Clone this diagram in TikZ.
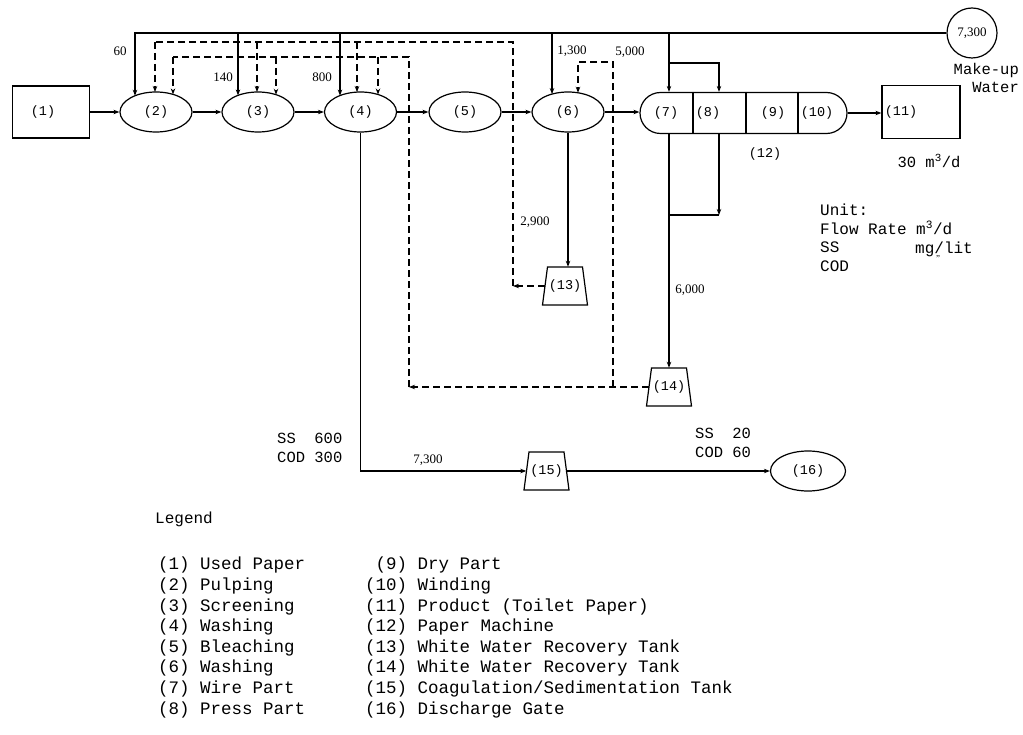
\documentclass[tikz,border=0pt]{standalone}
\usepackage{fontspec}
\setmainfont{Liberation Serif}
\setmonofont{Liberation Mono}
\usetikzlibrary{shapes.geometric,shapes.misc,arrows.meta,calc}
\newcommand\tankat[4]{%
  \node[tanklbl] (#1) at (#2,#3) {#4};
  \draw[line] ($(#1.center)+(-17.5,-19)$) -- ($(#1.center)+(17.5,-19)$) -- ($(#1.center)+(22.5,19)$) -- ($(#1.center)+(-22.5,19)$) -- cycle;}
\begin{document}
\begin{tikzpicture}[x=1pt,y=-1pt,
  line/.style={line width=1.2pt},
  dline/.style={line width=1.2pt, dash pattern=on 7pt off 4pt},
  arr/.style={-{Stealth[length=6pt,width=4.5pt]}},
  lbl/.style={font=\ttfamily\fontsize{13.5}{16}\selectfont, inner sep=0pt},
  oval/.style={draw, line width=1.2pt, ellipse, minimum width=72pt, minimum height=40pt, inner sep=0pt, lbl},
  box/.style={draw, line width=1.2pt, rectangle, inner sep=0pt},
  num/.style={font=\fontsize{13}{15}\selectfont, inner sep=0pt},
  mono/.style={font=\ttfamily\fontsize{15.5}{18.5}\selectfont, inner sep=0pt},
  leg/.style={font=\ttfamily\fontsize{17.5}{20.6}\selectfont, inner sep=0pt, align=left, anchor=north west},
  tanklbl/.style={inner sep=0pt, minimum width=40pt, minimum height=38pt, lbl}
]
\useasboundingbox (0,0) rectangle (1023,735);

% main process nodes
\node[box, minimum width=77pt, minimum height=52pt] (n1) at (51,112) {};
\node[lbl] (n1t) at (43,112) {(1)};
\node[oval] (n2) at (156,112) {(2)};
\node[oval] (n3) at (258,112) {(3)};
\node[oval] (n4) at (360.5,112) {(4)};
\node[oval] (n5) at (465,112) {(5)};
\node[oval] (n6) at (568,112) {(6)};
\node[draw, line width=1.2pt, rounded rectangle, minimum width=207pt, minimum height=41pt, inner sep=0pt] (pm) at (743.5,113) {};
\draw[line] (pm.north -| 693,0) -- (pm.south -| 693,0);
\draw[line] (pm.north -| 746,0) -- (pm.south -| 746,0);
\draw[line] (pm.north -| 798,0) -- (pm.south -| 798,0);
\node[lbl] (n7) at (666,113) {(7)};
\node[lbl] (n8) at (708,113) {(8)};
\node[lbl] (n9) at (773,113) {(9)};
\node[lbl] (n10) at (817,113) {(10)};
\node[lbl] (n12) at (765,154) {(12)};
\node[box, minimum width=78pt, minimum height=53pt] (n11) at (921,112) {};
\node[lbl] (n11t) at (901,112) {(11)};
\node[mono] (n11q) at (929,161) {30 m\textsuperscript{3}/d};
\node[draw, line width=1.2pt, circle, minimum size=50pt, inner sep=0pt, num] (mw) at (972,33) {7,300};
\node[mono, align=right, anchor=north east] (mwt) at (1019,63) {Make-up\\Water};

\tankat{t13}{565}{286}{(13)}
\tankat{t14}{669}{387}{(14)}
\tankat{t15}{546.5}{471}{(15)}
\node[draw, line width=1.2pt, ellipse, minimum width=75pt, minimum height=40pt, inner sep=0pt, lbl] (n16) at (808,471) {(16)};

% main flow
\draw[line,arr] (n1.east) -- (n2.west);
\draw[line,arr] (n2.east) -- (n3.west);
\draw[line,arr] (n3.east) -- (n4.west);
\draw[line,arr] (n4.east) -- (n5.west);
\draw[line,arr] (n5.east) -- (n6.west);
\draw[line,arr] (n6.east) -- (n6.east -| pm.west);
\draw[line,arr] (pm.east) -- (pm.east -| n11.west);

% make-up water line
\coordinate (top2) at (135,33);
\coordinate (top3) at (238,33);
\coordinate (top4) at (340,33);
\coordinate (top6) at (552,33);
\coordinate (top7) at (669,33);
\coordinate (br8) at (669,63);
\coordinate (br8r) at (719,63);
\draw[line,arr] (mw.west) -- (top2) -- ($(n2.center)+(-21,-16.2)$);
\draw[line,arr] (top3) -- ($(n3.center)+(-20,-16.6)$);
\draw[line,arr] (top4) -- ($(n4.center)+(-20.5,-16.4)$);
\draw[line,arr] (top6) -- ($(n6.center)+(-16,-17.9)$);
\draw[line,arr] (top7) -- (pm.north -| top7);
\draw[line,arr] (br8) -- (br8r) -- (pm.north -| br8r);

% outer dashed return from (13)
\coordinate (ob) at (513,286);
\coordinate (ot) at (513,42);
\coordinate (ol) at (155,42);
\coordinate (o3) at (257,42);
\coordinate (o4) at (357,42);
\draw[dline,arr] (t13.west) -- (ob);
\draw[dline] (ob) -- (ot) -- (ol);
\draw[dline,arr] (ol) -- ($(n2.center)+(-1,-20)$);
\draw[dline,arr] (o3) -- ($(n3.center)+(-1,-20)$);
\draw[dline,arr] (o4) -- ($(n4.center)+(-3.5,-19.9)$);

% inner dashed return from (14)
\coordinate (ib) at (409,387);
\coordinate (it) at (409,57);
\coordinate (il) at (173,57);
\coordinate (i3) at (276,57);
\coordinate (i4) at (378,57);
\coordinate (j14) at (613,387);
\coordinate (j14t) at (613,62);
\coordinate (j14l) at (578,62);
\draw[dline,arr] (t14.west) -- (ib);
\draw[dline] (ib) -- (it) -- (il);
\draw[dline,arr] (il) -- ($(n2.center)+(17,-17.6)$);
\draw[dline,arr] (i3) -- ($(n3.center)+(18,-17.3)$);
\draw[dline,arr] (i4) -- ($(n4.center)+(17.5,-17.5)$);
\draw[dline,arr] (j14) -- (j14t) -- (j14l) -- ($(n6.center)+(10,-19.2)$);

% downward flows
\draw[line,arr] (n6.south) -- (n6.south |- t13.north);
\draw[line,arr] (pm.south -| top7) -- (t14.north);
\coordinate (c8) at (719,215);
\draw[line,arr] (pm.south -| br8r) -- (c8);
\draw[line] (c8) -- (c8 -| top7);
\draw[line,arr] (n4.south) -- (n4.south |- t15.west) -- (t15.west);
\draw[line,arr] (t15.east) -- (n16.west);

% flow numbers
\node[num] (q60) at (120,51) {60};
\node[num] (q140) at (223,77) {140};
\node[num] (q800) at (322,77) {800};
\node[num] (q1300) at (572,51) {1,300};
\node[num] (q5000) at (630,52) {5,000};
\node[num] (q2900) at (535,222) {2,900};
\node[num] (q6000) at (690,290) {6,000};
\node[num] (q7300) at (428,460) {7,300};

% quality labels
\node[mono, align=left, anchor=west] (qin) at (277,448) {SS\ \ 600\\COD 300};
\node[mono, align=left, anchor=west] (qout) at (695,443) {SS\ \ 20\\COD 60};

% unit box
\node[mono, align=left, anchor=north west, font=\ttfamily\fontsize{16}{18.5}\selectfont] (unit) at (820,204) {Unit:\\Flow Rate m\textsuperscript{3}/d\\SS\\COD};
\node[mono, anchor=west, font=\ttfamily\fontsize{16}{18.5}\selectfont] (unitss) at (915,249) {mg/lit};
\node[inner sep=0pt, font=\fontsize{9}{10}\selectfont] (ditto) at (938,259) {"};

% legend
\node[leg, font=\ttfamily\fontsize{16}{19}\selectfont] (legt) at (155,512) {Legend};
\node[leg] (leg1) at (158,557) {(1) Used Paper\\(2) Pulping\\(3) Screening\\(4) Washing\\(5) Bleaching\\(6) Washing\\(7) Wire Part\\(8) Press Part};
\node[leg] (leg2) at (365,557) {\ (9) Dry Part\\(10) Winding\\(11) Product (Toilet Paper)\\(12) Paper Machine\\(13) White Water Recovery Tank\\(14) White Water Recovery Tank\\(15) Coagulation/Sedimentation Tank\\(16) Discharge Gate};
\end{tikzpicture}
\end{document}
